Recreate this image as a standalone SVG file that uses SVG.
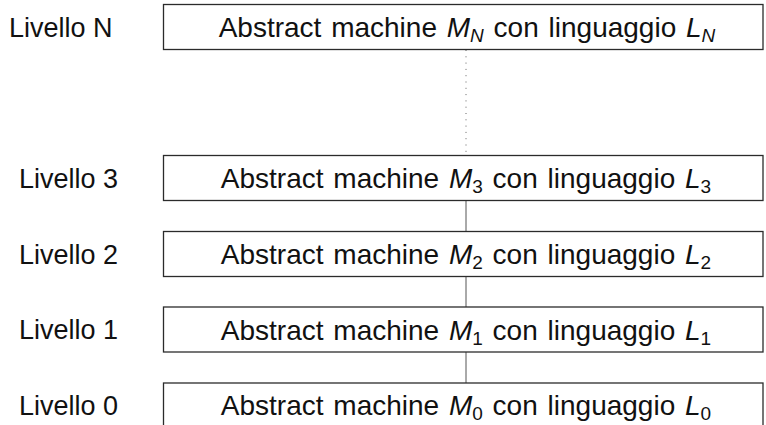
<svg xmlns="http://www.w3.org/2000/svg" width="766" height="425" viewBox="0 0 766 425">
  <style>
    .box { fill: #ffffff; stroke: #2b2b2b; stroke-width: 1.3; }
    .lvl { font-family: "Liberation Sans", Arial, sans-serif; font-size: 27px; fill: #111; }
    .txt { font-family: "Liberation Sans", Arial, sans-serif; font-size: 28px; fill: #111; text-anchor: middle; word-spacing: 2px; }
    .it { font-style: italic; }
    .sub { font-size: 19px; }
    .link { stroke: #555; stroke-width: 1; fill: none; }
    .dots { stroke: #666; stroke-width: 1; stroke-dasharray: 1 5.3; fill: none; }
  </style>

  <!-- connectors between the stacked machines -->
  <g id="connectors">
    <line class="dots" x1="466" y1="50" x2="466" y2="156"/>
    <line class="link" x1="466" y1="200.5" x2="466" y2="231.5"/>
    <line class="link" x1="466" y1="276.5" x2="466" y2="307.5"/>
    <line class="link" x1="466" y1="352" x2="466" y2="383"/>
  </g>

  <g id="level-N">
    <text class="lvl" x="9" y="36.5">Livello N</text>
    <rect class="box" x="163.5" y="4.5" width="599.5" height="45"/>
    <text class="txt" x="467" y="37">Abstract machine <tspan class="it">M</tspan><tspan class="sub it" dy="5">N</tspan><tspan dy="-5"> con linguaggio </tspan><tspan class="it">L</tspan><tspan class="sub it" dy="5">N</tspan></text>
  </g>

  <g id="level-3">
    <text class="lvl" x="19" y="187.5">Livello 3</text>
    <rect class="box" x="163.5" y="155.5" width="599.5" height="45"/>
    <text class="txt" x="466" y="188">Abstract machine <tspan class="it">M</tspan><tspan class="sub" dy="5">3</tspan><tspan dy="-5"> con linguaggio </tspan><tspan class="it">L</tspan><tspan class="sub" dy="5">3</tspan></text>
  </g>

  <g id="level-2">
    <text class="lvl" x="19" y="263.5">Livello 2</text>
    <rect class="box" x="163.5" y="231.5" width="599.5" height="45"/>
    <text class="txt" x="466" y="264">Abstract machine <tspan class="it">M</tspan><tspan class="sub" dy="5">2</tspan><tspan dy="-5"> con linguaggio </tspan><tspan class="it">L</tspan><tspan class="sub" dy="5">2</tspan></text>
  </g>

  <g id="level-1">
    <text class="lvl" x="19" y="339">Livello 1</text>
    <rect class="box" x="163.5" y="307" width="599.5" height="45"/>
    <text class="txt" x="466" y="339.5">Abstract machine <tspan class="it">M</tspan><tspan class="sub" dy="5">1</tspan><tspan dy="-5"> con linguaggio </tspan><tspan class="it">L</tspan><tspan class="sub" dy="5">1</tspan></text>
  </g>

  <g id="level-0">
    <text class="lvl" x="19" y="414.5">Livello 0</text>
    <rect class="box" x="163.5" y="383" width="599.5" height="45"/>
    <text class="txt" x="466" y="415">Abstract machine <tspan class="it">M</tspan><tspan class="sub" dy="5">0</tspan><tspan dy="-5"> con linguaggio </tspan><tspan class="it">L</tspan><tspan class="sub" dy="5">0</tspan></text>
  </g>
</svg>
